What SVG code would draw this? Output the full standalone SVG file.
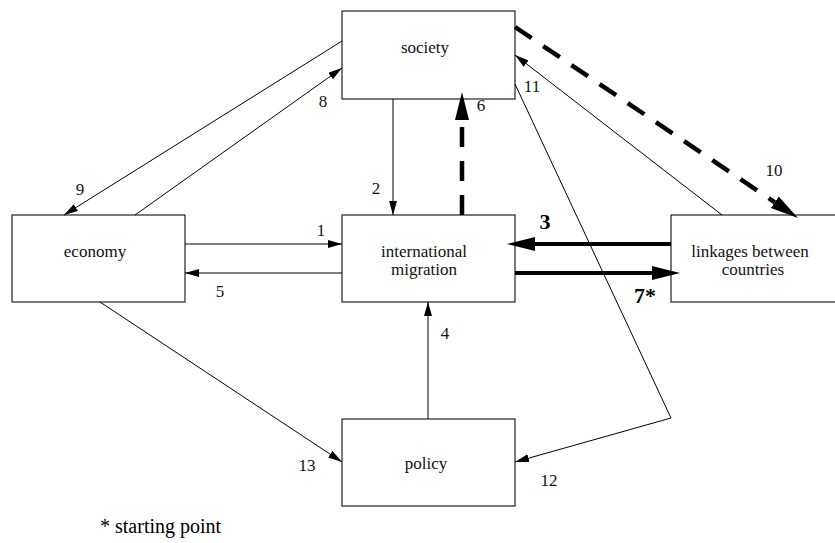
<svg xmlns="http://www.w3.org/2000/svg" width="835" height="543" viewBox="0 0 835 543">
<style>
text{font-family:"Liberation Serif","Tinos","DejaVu Serif","Noto Serif",serif}
.box{fill:#fff;stroke:#222;stroke-width:1.2}
.nt{font-size:17px;fill:#111;text-anchor:middle}
.lb{font-size:17px;fill:#111;text-anchor:middle}
.bl{font-size:22px;font-weight:bold;fill:#000;text-anchor:middle}
.ft{font-size:20px;fill:#000}
.thin{fill:none;stroke:#000;stroke-width:1}
.thick{fill:none;stroke:#000;stroke-width:4}
.dash{fill:none;stroke:#000;stroke-width:4.5;stroke-dasharray:20 14}
</style>
<defs>
<marker id="a" markerUnits="userSpaceOnUse" markerWidth="16" markerHeight="10" refX="14" refY="4" orient="auto">
<path d="M0,0 L14,4 L0,8 z" fill="#000" stroke="none"/>
</marker>
<marker id="A" markerUnits="userSpaceOnUse" markerWidth="30" markerHeight="16" refX="0" refY="7" orient="auto">
<path d="M0,0 L28,7 L0,14 z" fill="#000" stroke="none"/>
</marker>
</defs>
<g id="society"><rect class="box" x="342" y="11" width="173" height="88"/><text class="nt" x="425" y="53">society</text></g>
<g id="economy"><rect class="box" x="12" y="215" width="173" height="87"/><text class="nt" x="95" y="257">economy</text></g>
<g id="migration"><rect class="box" x="342" y="215" width="173" height="87"/><text class="nt" x="424" y="257">international</text><text class="nt" x="424" y="275">migration</text></g>
<g id="linkages"><rect class="box" x="671" y="215" width="175" height="87"/><text class="nt" x="750" y="257">linkages between</text><text class="nt" x="753" y="275">countries</text></g>
<g id="policy"><rect class="box" x="342" y="419" width="173" height="87"/><text class="nt" x="426" y="469">policy</text></g>
<g id="connectors">
<line class="thin" x1="185" y1="244" x2="342" y2="244" marker-end="url(#a)"/>
<line class="thin" x1="342" y1="273" x2="185" y2="273" marker-end="url(#a)"/>
<line class="thin" x1="393" y1="99" x2="393" y2="215" marker-end="url(#a)"/>
<line class="thin" x1="428" y1="419" x2="428" y2="302" marker-end="url(#a)"/>
<line class="thin" x1="135" y1="215" x2="342" y2="68" marker-end="url(#a)"/>
<line class="thin" x1="342" y1="41" x2="64" y2="215" marker-end="url(#a)"/>
<line class="thin" x1="722" y1="215" x2="515" y2="55" marker-end="url(#a)"/>
<polyline class="thin" points="515,84 671,418 515,462" marker-end="url(#a)"/>
<line class="thin" x1="100" y1="302" x2="342" y2="462" marker-end="url(#a)"/>
<line class="thick" x1="671" y1="244" x2="535" y2="244" marker-end="url(#A)"/>
<line class="thick" x1="515" y1="273" x2="652" y2="273" marker-end="url(#A)"/>
<line class="dash" x1="462" y1="215" x2="462" y2="120" marker-end="url(#A)"/>
<line class="dash" x1="515" y1="27" x2="774.8" y2="202.3" marker-end="url(#A)"/>
</g>
<g id="labels">
<text class="lb" x="321" y="236">1</text>
<text class="lb" x="220" y="297">5</text>
<text class="lb" x="376" y="194">2</text>
<text class="lb" x="481" y="111">6</text>
<text class="lb" x="445" y="339">4</text>
<text class="lb" x="323" y="107">8</text>
<text class="lb" x="80" y="195">9</text>
<text class="lb" x="774" y="176">10</text>
<text class="lb" x="532" y="92">11</text>
<text class="lb" x="549" y="486">12</text>
<text class="lb" x="307" y="471">13</text>
<text class="bl" x="545" y="229">3</text>
<text class="bl" x="645" y="303">7*</text>
</g>
<text class="ft" x="100" y="533">* starting point</text>
</svg>
